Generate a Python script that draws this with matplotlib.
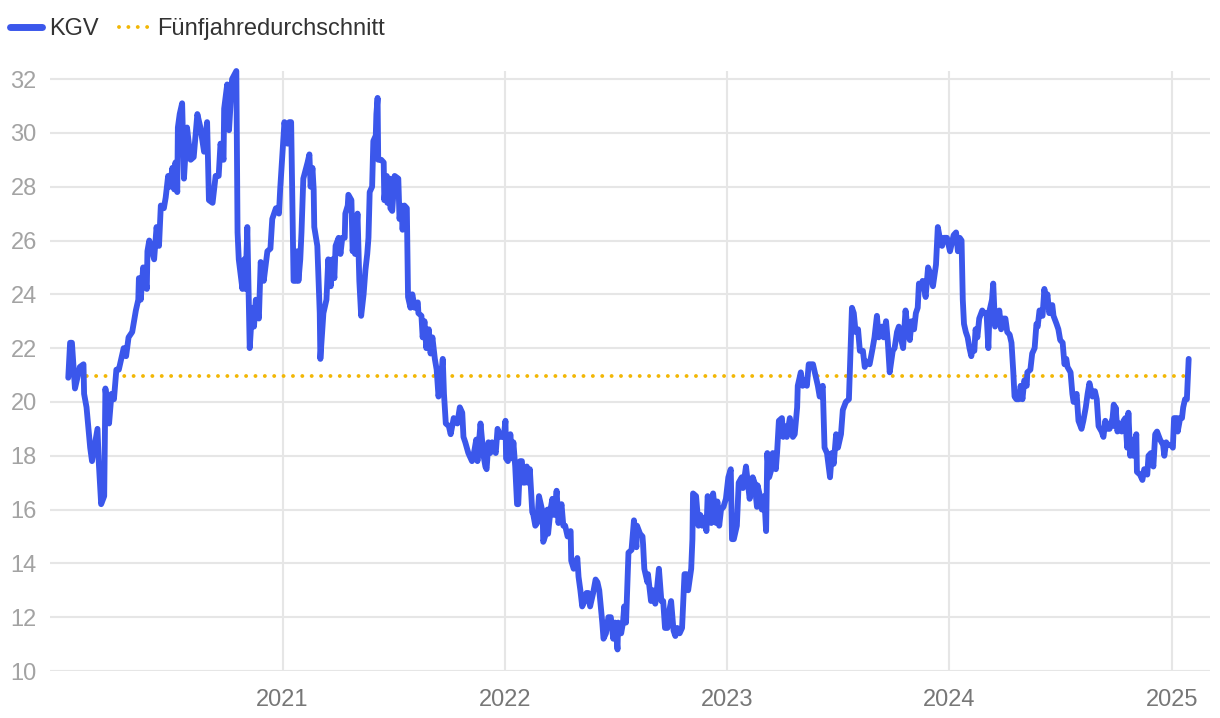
import matplotlib
matplotlib.use("Agg")
import matplotlib.pyplot as plt
from matplotlib.lines import Line2D
import pandas as pd

dates_2020 = ["2020-01-15", "2020-01-18", "2020-01-21", "2020-01-26", "2020-02-03", "2020-02-09", "2020-02-10", "2020-02-14", "2020-02-20", "2020-02-23",
              "2020-03-03", "2020-03-05", "2020-03-09", "2020-03-14", "2020-03-16", "2020-03-22", "2020-03-26", "2020-03-30", "2020-04-03", "2020-04-07",
              "2020-04-11", "2020-04-15", "2020-04-19", "2020-04-23", "2020-04-29", "2020-05-05", "2020-05-09", "2020-05-10", "2020-05-13", "2020-05-17",
              "2020-05-23", "2020-05-24", "2020-05-27", "2020-06-04", "2020-06-08", "2020-06-12", "2020-06-15", "2020-06-20", "2020-06-23", "2020-06-27",
              "2020-06-30", "2020-07-04", "2020-07-07", "2020-07-09", "2020-07-12", "2020-07-13", "2020-07-16", "2020-07-20", "2020-07-23", "2020-07-28",
              "2020-08-03", "2020-08-08", "2020-08-14", "2020-08-19", "2020-08-25", "2020-08-30", "2020-09-02", "2020-09-08", "2020-09-10", "2020-09-13",
              "2020-09-18", "2020-09-21", "2020-09-26", "2020-09-27", "2020-10-02", "2020-10-05", "2020-10-10", "2020-10-17", "2020-10-19", "2020-10-21",
              "2020-10-27", "2020-10-30", "2020-11-01", "2020-11-04", "2020-11-08", "2020-11-12", "2020-11-15", "2020-11-18", "2020-11-23", "2020-11-26",
              "2020-12-01", "2020-12-07", "2020-12-12", "2020-12-15", "2020-12-21", "2020-12-26", "2020-12-28", "2020-12-31"]
kgv_2020 = [20.9, 22.2, 22.2, 20.5, 21.3, 21.4, 20.3, 19.8, 18.3, 17.8,
            19.0, 17.8, 16.2, 16.5, 20.5, 19.2, 20.3, 20.1, 21.2, 21.2,
            21.6, 22.0, 21.7, 22.4, 22.6, 23.4, 23.8, 24.6, 23.8, 25.0,
            24.2, 25.6, 26.0, 25.3, 26.5, 25.8, 27.3, 27.2, 27.6, 28.4,
            28.0, 28.7, 27.9, 28.9, 27.8, 30.2, 30.7, 31.1, 28.3, 30.2,
            29.0, 29.1, 30.7, 30.2, 29.3, 30.4, 27.5, 27.4, 27.8, 28.4,
            28.4, 29.6, 29.0, 30.9, 31.8, 30.1, 32.0, 32.3, 26.3, 25.3,
            24.2, 25.3, 24.2, 26.5, 22.0, 23.5, 22.8, 23.8, 23.1, 25.2,
            24.5, 25.6, 25.7, 26.8, 27.2, 27.0, 27.9, 29.0]

dates_2021 = ["2021-01-04", "2021-01-09", "2021-01-12", "2021-01-15", "2021-01-19", "2021-01-23", "2021-01-25", "2021-01-27", "2021-01-30", "2021-02-01",
              "2021-02-04", "2021-02-11", "2021-02-14", "2021-02-16", "2021-02-19", "2021-02-21", "2021-02-22", "2021-02-27", "2021-03-03", "2021-03-04",
              "2021-03-09", "2021-03-14", "2021-03-17", "2021-03-21", "2021-03-24", "2021-03-27", "2021-03-29", "2021-04-03", "2021-04-06", "2021-04-09",
              "2021-04-13", "2021-04-14", "2021-04-18", "2021-04-19", "2021-04-24", "2021-04-26", "2021-04-29", "2021-04-30", "2021-05-04", "2021-05-07",
              "2021-05-10", "2021-05-14", "2021-05-17", "2021-05-20", "2021-05-22", "2021-05-24", "2021-05-28", "2021-05-30", "2021-06-03", "2021-06-04",
              "2021-06-06", "2021-06-07", "2021-06-12", "2021-06-16", "2021-06-17", "2021-06-21", "2021-06-22", "2021-06-26", "2021-06-27", "2021-06-30",
              "2021-07-04", "2021-07-10", "2021-07-12", "2021-07-15", "2021-07-17", "2021-07-20", "2021-07-24", "2021-07-26", "2021-07-30", "2021-08-02",
              "2021-08-06", "2021-08-11", "2021-08-12", "2021-08-17", "2021-08-19", "2021-08-22", "2021-08-25", "2021-08-29", "2021-09-01", "2021-09-04",
              "2021-09-08", "2021-09-11", "2021-09-14", "2021-09-18", "2021-09-21", "2021-09-23", "2021-09-26", "2021-10-01", "2021-10-04", "2021-10-09",
              "2021-10-15", "2021-10-19", "2021-10-23", "2021-10-25", "2021-10-28", "2021-11-02", "2021-11-08", "2021-11-12", "2021-11-15", "2021-11-17",
              "2021-11-22", "2021-11-27", "2021-11-30", "2021-12-02", "2021-12-05", "2021-12-08", "2021-12-11", "2021-12-17", "2021-12-20", "2021-12-25",
              "2021-12-30"]
kgv_2021 = [30.4, 29.6, 30.4, 30.4, 24.5, 24.5, 25.6, 24.5, 25.3, 26.3,
            28.3, 28.9, 29.2, 28.0, 28.7, 27.9, 26.5, 25.8, 23.3, 21.6,
            23.3, 23.8, 25.3, 24.3, 25.3, 24.6, 25.8, 26.1, 25.5, 26.1,
            26.1, 27.0, 27.3, 27.7, 27.5, 25.6, 26.3, 25.5, 27.0, 24.5,
            23.2, 24.0, 24.9, 25.5, 26.1, 27.8, 28.0, 29.7, 29.9, 30.7,
            31.3, 29.0, 29.0, 28.9, 27.5, 28.4, 27.4, 28.3, 27.2, 27.1,
            28.4, 28.3, 26.8, 27.3, 26.4, 27.3, 27.2, 23.9, 23.5, 24.0,
            23.5, 23.7, 23.3, 23.2, 22.4, 23.0, 22.0, 22.7, 21.8, 22.4,
            21.6, 21.2, 20.2, 20.9, 21.6, 20.3, 19.2, 19.1, 18.8, 19.4,
            19.2, 19.8, 19.6, 18.7, 18.5, 18.1, 17.8, 18.2, 18.6, 17.8,
            19.2, 18.0, 17.6, 17.5, 18.5, 18.1, 18.5, 18.1, 19.0, 18.7,
            18.7]

dates_2022 = ["2022-01-02", "2022-01-03", "2022-01-06", "2022-01-10", "2022-01-13", "2022-01-15", "2022-01-18", "2022-01-21", "2022-01-23", "2022-01-26",
              "2022-01-29", "2022-01-31", "2022-02-03", "2022-02-06", "2022-02-08", "2022-02-11", "2022-02-15", "2022-02-16", "2022-02-20", "2022-02-23",
              "2022-02-26", "2022-03-04", "2022-03-05", "2022-03-08", "2022-03-12", "2022-03-13", "2022-03-17", "2022-03-20", "2022-03-23", "2022-03-27",
              "2022-03-30", "2022-04-04", "2022-04-07", "2022-04-10", "2022-04-14", "2022-04-19", "2022-04-20", "2022-04-24", "2022-04-27", "2022-04-30",
              "2022-05-02", "2022-05-05", "2022-05-08", "2022-05-12", "2022-05-15", "2022-05-18", "2022-05-21", "2022-05-26", "2022-05-30", "2022-06-02",
              "2022-06-05", "2022-06-10", "2022-06-12", "2022-06-16", "2022-06-20", "2022-06-24", "2022-06-28", "2022-07-01", "2022-07-05", "2022-07-06",
              "2022-07-11", "2022-07-14", "2022-07-16", "2022-07-19", "2022-07-23", "2022-07-28", "2022-08-01", "2022-08-05", "2022-08-06", "2022-08-11",
              "2022-08-15", "2022-08-16", "2022-08-18", "2022-08-23", "2022-08-24", "2022-08-29", "2022-09-01", "2022-09-05", "2022-09-08", "2022-09-11",
              "2022-09-15", "2022-09-18", "2022-09-21", "2022-09-25", "2022-09-26", "2022-10-01", "2022-10-05", "2022-10-08", "2022-10-11", "2022-10-15",
              "2022-10-19", "2022-10-23", "2022-10-26", "2022-10-29", "2022-11-03", "2022-11-05", "2022-11-06", "2022-11-11", "2022-11-15", "2022-11-18",
              "2022-11-21", "2022-11-25", "2022-11-28", "2022-11-30", "2022-12-03", "2022-12-06", "2022-12-09", "2022-12-14", "2022-12-16", "2022-12-19",
              "2022-12-22", "2022-12-26", "2022-12-30"]
kgv_2022 = [19.3, 17.9, 17.8, 18.8, 17.9, 18.5, 17.6, 16.2, 16.2, 17.8,
            17.8, 17.0, 17.0, 17.6, 17.0, 17.5, 15.9, 15.9, 15.4, 15.5,
            16.5, 15.9, 14.8, 15.0, 16.0, 15.1, 16.0, 16.4, 15.8, 16.7,
            15.5, 16.2, 15.4, 15.4, 15.0, 15.2, 14.1, 13.8, 13.9, 14.2,
            13.5, 13.0, 12.4, 12.6, 12.9, 12.9, 12.4, 12.9, 13.4, 13.3,
            13.0, 11.8, 11.2, 11.4, 12.0, 12.0, 11.2, 11.8, 10.8, 11.8,
            11.4, 11.8, 12.4, 11.8, 14.4, 14.5, 15.6, 14.6, 15.4, 15.1,
            15.0, 14.7, 13.8, 13.3, 13.6, 12.6, 13.0, 12.5, 13.1, 13.8,
            12.6, 12.6, 11.6, 11.6, 12.0, 12.6, 11.5, 11.3, 11.6, 11.4,
            11.6, 13.6, 13.6, 13.0, 13.8, 14.9, 16.6, 16.5, 15.4, 15.8,
            15.4, 15.7, 15.2, 16.5, 16.2, 15.5, 16.6, 15.5, 16.3, 15.4,
            16.0, 16.1, 16.4]

dates_2023 = ["2023-01-03", "2023-01-07", "2023-01-09", "2023-01-12", "2023-01-17", "2023-01-20", "2023-01-25", "2023-01-27", "2023-02-01", "2023-02-04",
              "2023-02-07", "2023-02-12", "2023-02-15", "2023-02-19", "2023-02-20", "2023-02-24", "2023-02-27", "2023-03-03", "2023-03-06", "2023-03-08",
              "2023-03-11", "2023-03-16", "2023-03-17", "2023-03-22", "2023-03-24", "2023-03-27", "2023-04-01", "2023-04-03", "2023-04-08", "2023-04-09",
              "2023-04-14", "2023-04-19", "2023-04-22", "2023-04-26", "2023-04-27", "2023-05-02", "2023-05-05", "2023-05-09", "2023-05-12", "2023-05-15",
              "2023-05-22", "2023-05-27", "2023-05-30", "2023-06-02", "2023-06-07", "2023-06-10", "2023-06-14", "2023-06-19", "2023-06-22", "2023-06-25",
              "2023-06-29", "2023-07-02", "2023-07-07", "2023-07-10", "2023-07-15", "2023-07-20", "2023-07-25", "2023-07-28", "2023-07-31", "2023-08-04",
              "2023-08-07", "2023-08-12", "2023-08-15", "2023-08-18", "2023-08-23", "2023-08-28", "2023-08-31", "2023-09-04", "2023-09-07", "2023-09-12",
              "2023-09-15", "2023-09-19", "2023-09-22", "2023-09-25", "2023-09-30", "2023-10-03", "2023-10-07", "2023-10-10", "2023-10-15", "2023-10-17",
              "2023-10-21", "2023-10-25", "2023-10-28", "2023-10-31", "2023-11-04", "2023-11-07", "2023-11-10", "2023-11-12", "2023-11-17", "2023-11-18",
              "2023-11-23", "2023-11-27", "2023-12-02", "2023-12-05", "2023-12-10", "2023-12-13", "2023-12-17", "2023-12-20", "2023-12-23", "2023-12-28"]
kgv_2023 = [17.2, 17.5, 14.9, 14.9, 15.4, 17.0, 17.2, 16.8, 17.6, 17.0,
            16.4, 17.2, 17.0, 16.1, 16.9, 16.5, 16.0, 16.5, 15.2, 18.1,
            17.2, 17.6, 18.1, 17.5, 18.1, 19.3, 19.4, 18.7, 19.1, 18.7,
            19.4, 18.7, 18.8, 19.8, 20.6, 21.1, 20.6, 20.8, 20.6, 21.4,
            21.4, 20.9, 20.6, 20.2, 20.6, 18.3, 18.1, 17.2, 18.1, 17.7,
            18.8, 18.3, 18.8, 19.7, 20.0, 20.1, 23.5, 23.3, 22.6, 22.7,
            21.9, 21.9, 21.3, 21.5, 21.4, 22.0, 22.4, 23.2, 22.4, 22.8,
            22.4, 23.0, 22.2, 21.1, 21.9, 22.0, 22.6, 22.8, 22.2, 22.0,
            23.4, 22.6, 22.3, 23.0, 22.7, 23.3, 23.5, 24.4, 24.3, 24.5,
            23.9, 25.0, 24.7, 24.3, 25.1, 26.5, 26.0, 25.8, 26.1, 26.1]

dates_2024 = ["2024-01-02", "2024-01-05", "2024-01-08", "2024-01-12", "2024-01-15", "2024-01-18", "2024-01-21", "2024-01-23", "2024-01-25", "2024-01-28",
              "2024-01-31", "2024-02-03", "2024-02-06", "2024-02-08", "2024-02-11", "2024-02-13", "2024-02-16", "2024-02-19", "2024-02-24", "2024-02-27",
              "2024-03-02", "2024-03-05", "2024-03-07", "2024-03-11", "2024-03-13", "2024-03-16", "2024-03-20", "2024-03-23", "2024-03-26", "2024-03-30",
              "2024-04-02", "2024-04-05", "2024-04-09", "2024-04-12", "2024-04-15", "2024-04-17", "2024-04-20", "2024-04-24", "2024-04-27", "2024-04-30",
              "2024-05-03", "2024-05-07", "2024-05-08", "2024-05-13", "2024-05-16", "2024-05-20", "2024-05-23", "2024-05-25", "2024-05-28", "2024-06-02",
              "2024-06-05", "2024-06-08", "2024-06-10", "2024-06-13", "2024-06-18", "2024-06-20", "2024-06-25", "2024-06-28", "2024-07-01", "2024-07-05",
              "2024-07-08", "2024-07-11", "2024-07-13", "2024-07-18", "2024-07-21", "2024-07-23", "2024-07-28", "2024-07-31", "2024-08-05", "2024-08-08",
              "2024-08-12", "2024-08-15", "2024-08-18", "2024-08-23", "2024-08-27", "2024-08-30", "2024-09-02", "2024-09-07", "2024-09-10", "2024-09-13",
              "2024-09-17", "2024-09-20", "2024-09-25", "2024-09-27", "2024-09-28", "2024-09-30", "2024-10-03", "2024-10-06", "2024-10-10", "2024-10-13",
              "2024-10-16", "2024-10-19", "2024-10-21", "2024-10-24", "2024-10-28", "2024-10-29", "2024-11-03", "2024-11-04", "2024-11-09", "2024-11-13",
              "2024-11-16", "2024-11-21", "2024-11-23", "2024-11-27", "2024-12-01", "2024-12-04", "2024-12-07", "2024-12-12", "2024-12-17", "2024-12-19",
              "2024-12-22", "2024-12-25", "2024-12-30"]
kgv_2024 = [25.6, 25.9, 26.2, 26.3, 25.6, 26.1, 26.0, 23.8, 22.9, 22.6,
            22.4, 22.0, 21.7, 22.0, 21.9, 22.7, 22.4, 23.1, 23.4, 23.3,
            23.3, 22.0, 23.4, 23.8, 24.4, 22.8, 23.1, 23.4, 22.7, 23.1,
            23.1, 22.6, 22.5, 22.2, 21.1, 20.2, 20.1, 20.1, 20.6, 20.1,
            20.8, 20.6, 21.1, 21.2, 21.8, 22.0, 22.9, 22.8, 23.4, 23.2,
            24.2, 23.7, 24.0, 23.3, 23.6, 23.2, 22.9, 22.7, 22.3, 22.2,
            21.4, 21.6, 21.3, 21.1, 20.3, 20.0, 20.3, 19.3, 19.0, 19.3,
            19.8, 20.3, 20.7, 20.2, 20.4, 20.1, 19.1, 18.9, 18.7, 19.3,
            19.0, 19.0, 19.4, 19.9, 19.1, 19.8, 18.9, 19.2, 18.9, 19.3,
            19.4, 18.3, 19.6, 18.0, 18.6, 18.0, 18.8, 17.4, 17.3, 17.1,
            17.5, 17.3, 18.0, 18.1, 17.6, 18.8, 18.9, 18.6, 18.4, 18.0,
            18.5, 18.4, 18.4]

dates_2025 = ["2025-01-02", "2025-01-04", "2025-01-09", "2025-01-10", "2025-01-14", "2025-01-17", "2025-01-19", "2025-01-22", "2025-01-25", "2025-01-28"]
kgv_2025 = [18.3, 19.4, 19.4, 18.9, 19.4, 19.4, 19.8, 20.1, 20.1, 21.6]

five_year_avg = 20.95
year_labels = ["2021", "2022", "2023", "2024", "2025"]
y_ticks = [10, 12, 14, 16, 18, 20, 22, 24, 26, 28, 30, 32]

dates = pd.to_datetime(dates_2020 + dates_2021 + dates_2022 + dates_2023 + dates_2024 + dates_2025)
kgv = kgv_2020 + kgv_2021 + kgv_2022 + kgv_2023 + kgv_2024 + kgv_2025

plt.rcParams['font.family'] = ['Liberation Sans', 'DejaVu Sans']

fig = plt.figure(figsize=(12.2, 7.18), dpi=100)
ax = fig.add_axes([50 / 1220, 47 / 718, 1160 / 1220, 600 / 718])

blue = '#3b57eb'
gold = '#f2b705'
dots = (0, (0.01, 2.4))

ax.plot([dates[0], dates[-1]], [five_year_avg, five_year_avg], color=gold, lw=2.8,
        linestyle=dots, dash_capstyle='round', zorder=2)
ax.plot(dates, kgv, color=blue, lw=4.2, solid_joinstyle='round',
        solid_capstyle='round', zorder=3, clip_on=False)

ax.set_ylim(10, 32.3)
ax.set_yticks(y_ticks)
ax.set_xlim(pd.Timestamp("2019-12-16"), pd.Timestamp("2025-03-04"))
ax.set_xticks(pd.to_datetime([y + "-01-01" for y in year_labels]))
ax.set_xticklabels(year_labels)

ax.grid(True, color='#e6e6e6', lw=1.5)
ax.set_axisbelow(True)
for s in ax.spines.values():
    s.set_visible(False)
ax.tick_params(axis='both', length=0, labelsize=17)
ax.tick_params(axis='y', pad=9.5, labelcolor='#a3a3a3')
ax.tick_params(axis='x', pad=13, labelcolor='#777777')

handles = [Line2D([], [], color=blue, lw=5, solid_capstyle='round'),
           Line2D([], [], color=gold, lw=2.8, linestyle=dots, dash_capstyle='round')]
fig.legend(handles, ['KGV', 'Fünfjahredurchschnitt'], loc='upper left',
           bbox_to_anchor=(10 / 1220, 1 - 18 / 718), ncol=2, frameon=False,
           fontsize=17, labelcolor='#333333', handlelength=1.35, handletextpad=0.3,
           columnspacing=0.85, borderpad=0, borderaxespad=0)

fig.savefig('out.png', dpi=100)
